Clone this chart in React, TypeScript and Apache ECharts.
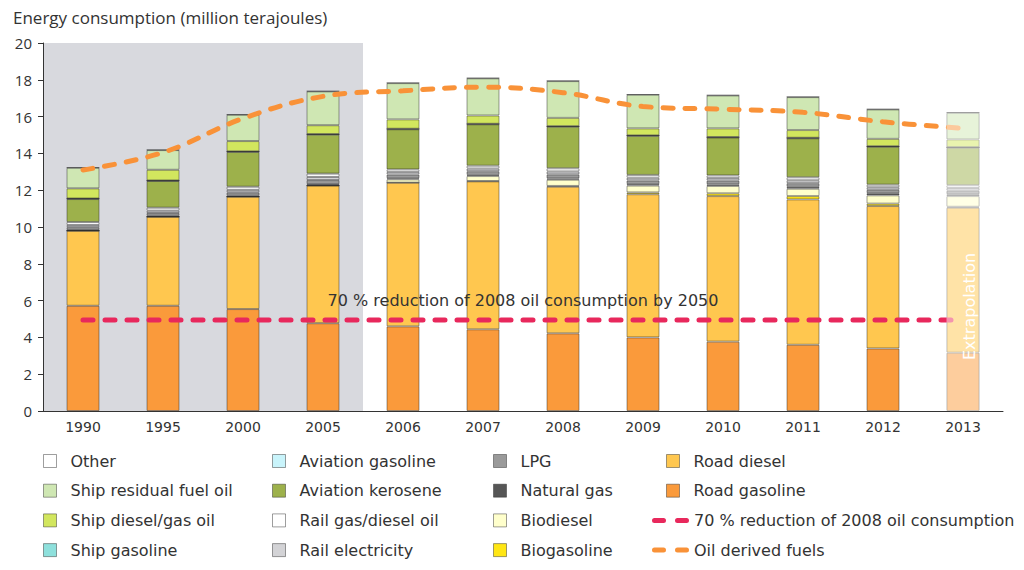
import React, { useEffect, useRef } from 'react';
import * as echarts from 'echarts';

const years = ['1990', '1995', '2000', '2005', '2006', '2007', '2008', '2009', '2010', '2011', '2012', '2013'];
const roadGasoline = [5.72, 5.72, 5.54, 4.77, 4.6, 4.44, 4.22, 4.0, 3.77, 3.6, 3.4, 3.17];
const roadDiesel = [4.08, 4.84, 6.11, 7.48, 7.81, 8.04, 7.97, 7.78, 7.91, 7.9, 7.74, 7.88];
const biogasoline = [0, 0, 0, 0, 0, 0.02, 0.04, 0.1, 0.15, 0.18, 0.13, 0.05];
const biodiesel = [0, 0, 0, 0.02, 0.18, 0.27, 0.34, 0.37, 0.4, 0.4, 0.45, 0.58];
const naturalGas = [0.04, 0.05, 0.05, 0.06, 0.06, 0.06, 0.07, 0.08, 0.09, 0.1, 0.12, 0.1];
const lpg = [0.15, 0.15, 0.18, 0.22, 0.2, 0.2, 0.22, 0.2, 0.2, 0.2, 0.18, 0.19];
const railElectricity = [0.12, 0.13, 0.14, 0.17, 0.14, 0.15, 0.16, 0.15, 0.14, 0.16, 0.14, 0.15];
const railDiesel = [0.16, 0.16, 0.17, 0.18, 0.14, 0.15, 0.17, 0.15, 0.14, 0.16, 0.14, 0.15];
const aviationKerosene = [1.25, 1.45, 1.89, 2.12, 2.18, 2.25, 2.26, 2.12, 2.06, 2.12, 2.06, 2.04];
const aviationGasoline = [0.02, 0.02, 0.02, 0.02, 0.02, 0.02, 0.02, 0.02, 0.02, 0.02, 0.02, 0.02];
const shipGasoline = [0.01, 0.01, 0.01, 0.01, 0.01, 0.01, 0.01, 0.01, 0.01, 0.01, 0.01, 0.01];
const shipDiesel = [0.55, 0.58, 0.56, 0.48, 0.51, 0.45, 0.45, 0.38, 0.47, 0.42, 0.4, 0.42];
const shipResidual = [1.12, 1.07, 1.43, 1.84, 1.97, 2.02, 2.0, 1.83, 1.79, 1.79, 1.6, 1.45];
const other = [0.02, 0.02, 0.02, 0.02, 0.02, 0.02, 0.02, 0.02, 0.02, 0.02, 0.02, 0.02];
const oilDerivedFuels = [13.1, 14.05, 15.9, 17.1, 17.4, 17.6, 17.3, 16.55, 16.4, 16.23, 15.72, 15.36];
const reductionTarget = [4.95, 4.95, 4.95, 4.95, 4.95, 4.95, 4.95, 4.95, 4.95, 4.95, 4.95, 4.95];
const historicYears = ['1990', '1995', '2000', '2005'];
const extrapolatedYears = ['2013'];
const yTicksMax = 20;

const stackSeries = [
  { name: 'Road gasoline', data: roadGasoline, color: '#fa9a3b' },
  { name: 'Road diesel', data: roadDiesel, color: '#ffc74f' },
  { name: 'Biogasoline', data: biogasoline, color: '#ffe614' },
  { name: 'Biodiesel', data: biodiesel, color: '#ffffcc' },
  { name: 'Natural gas', data: naturalGas, color: '#565656' },
  { name: 'LPG', data: lpg, color: '#9a9a9a' },
  { name: 'Rail electricity', data: railElectricity, color: '#d3d3d6' },
  { name: 'Rail gas/diesel oil', data: railDiesel, color: '#ffffff' },
  { name: 'Aviation kerosene', data: aviationKerosene, color: '#9db14b' },
  { name: 'Aviation gasoline', data: aviationGasoline, color: '#c9f4fb' },
  { name: 'Ship gasoline', data: shipGasoline, color: '#8ee0dc' },
  { name: 'Ship diesel/gas oil', data: shipDiesel, color: '#d2e65e' },
  { name: 'Ship residual fuel oil', data: shipResidual, color: '#cfe7b3' },
  { name: 'Other', data: other, color: '#ffffff' },
];

const FONT = 'DejaVu Sans';
const DASH_ICON =
  'path://M2.5,0 h9 a2.5,2.5 0 0 1 0,5 h-9 a2.5,2.5 0 0 1 0,-5 z M25.5,0 h9 a2.5,2.5 0 0 1 0,5 h-9 a2.5,2.5 0 0 1 0,-5 z';

export default function App() {
  const ref = useRef<HTMLDivElement>(null);
  useEffect(() => {
    const chart = echarts.init(ref.current!, null, { renderer: 'svg' });
    const totals = years.map((_, i) => stackSeries.reduce((s, ser) => s + ser.data[i], 0));
    const legendBase = {
      orient: 'vertical',
      padding: 0,
      icon: 'rect',
      itemWidth: 13,
      itemHeight: 13,
      itemGap: 13.7,
      selectedMode: false,
      itemStyle: { borderWidth: 1 },
      textStyle: { fontFamily: FONT, fontSize: 16, color: '#333', lineHeight: 16, padding: [0, 0, 0, 9] },
    };
    const option: any = {
      animation: false,
      title: {
        text: 'Energy consumption (million terajoules)',
        left: 8,
        top: 4,
        textStyle: { fontFamily: 'Open Sans', fontSize: 17, fontWeight: 'normal', color: '#333' },
      },
      grid: { left: 43, right: 21, top: 43, height: 368 },
      xAxis: [
        {
          type: 'category',
          data: years,
          axisLine: { lineStyle: { color: '#333', width: 1 } },
          axisTick: { length: 5, lineStyle: { color: '#333' } },
          axisLabel: { fontFamily: FONT, fontSize: 14, color: '#333', margin: 9 },
          z: 10,
        },
        { type: 'category', data: years, show: false },
        { type: 'category', data: years, show: false },
      ],
      yAxis: {
        type: 'value',
        min: 0,
        max: yTicksMax,
        interval: 2,
        axisLine: { show: true, lineStyle: { color: '#333', width: 1 } },
        axisTick: { show: true, length: 5, lineStyle: { color: '#333' } },
        splitLine: { show: false },
        axisLabel: { fontFamily: 'Open Sans', fontSize: 15, color: '#333', margin: 11 },
        z: 10,
      },
      legend: [
        { ...legendBase, left: 43, top: 453, data: ['Other', 'Ship residual fuel oil', 'Ship diesel/gas oil', 'Ship gasoline'] },
        { ...legendBase, left: 272, top: 453, data: ['Aviation gasoline', 'Aviation kerosene', 'Rail gas/diesel oil', 'Rail electricity'] },
        { ...legendBase, left: 493, top: 453, data: ['LPG', 'Natural gas', 'Biodiesel', 'Biogasoline'] },
        { ...legendBase, left: 666, top: 453, data: ['Road diesel', 'Road gasoline'] },
        {
          ...legendBase,
          left: 652,
          top: 512.4,
          itemWidth: 37,
          itemHeight: 5,
          itemGap: 13.7,
          itemStyle: { borderWidth: 0 },
          textStyle: { ...legendBase.textStyle, padding: [0, 0, 0, 0] },
          data: [
            { name: '70 % reduction of 2008 oil consumption', icon: DASH_ICON },
            { name: 'Oil derived fuels', icon: DASH_ICON },
          ],
        },
      ],
      graphic: [
        {
          type: 'text',
          x: 523,
          y: 300,
          style: {
            text: '70 % reduction of 2008 oil consumption by 2050',
            font: `16px "${FONT}"`,
            fill: '#333',
            textAlign: 'center',
            textVerticalAlign: 'middle',
          },
          z: 20,
        },
      ],
      series: [
        {
          type: 'bar',
          name: 'historic-bg',
          xAxisIndex: 1,
          barWidth: '100%',
          silent: true,
          z: 0,
          itemStyle: { color: '#d8d9de' },
          data: years.map((y) => (historicYears.includes(y) ? yTicksMax : null)),
        },
        ...stackSeries.map((s) => ({
          type: 'bar',
          name: s.name,
          stack: 'total',
          barWidth: 33,
          z: 2,
          data: s.data,
          itemStyle: { color: s.color, borderColor: 'rgba(40,40,40,0.45)', borderWidth: 1 },
        })),
        {
          type: 'line',
          name: '70 % reduction of 2008 oil consumption',
          data: reductionTarget,
          symbol: 'none',
          z: 3,
          lineStyle: { color: '#e8285c', width: 5, type: [10, 12], cap: 'round' },
          itemStyle: { color: '#e8285c' },
        },
        {
          type: 'line',
          name: 'Oil derived fuels',
          data: oilDerivedFuels,
          symbol: 'none',
          smooth: 0.4,
          z: 3,
          lineStyle: { color: '#f99238', width: 5, type: [10, 12], cap: 'round' },
          itemStyle: { color: '#f99238' },
        },
        {
          type: 'bar',
          name: 'extrapolation-overlay',
          xAxisIndex: 2,
          barWidth: 33,
          silent: true,
          z: 5,
          itemStyle: { color: 'rgba(255,255,255,0.5)' },
          label: {
            show: true,
            formatter: 'Extrapolation',
            position: ['71%', '65%'],
            rotate: 90,
            align: 'center',
            verticalAlign: 'middle',
            color: '#ffffff',
            fontFamily: FONT,
            fontSize: 16,
          },
          data: years.map((y, i) => (extrapolatedYears.includes(y) ? totals[i] : null)),
        },
      ],
    };
    chart.setOption(option);
    return () => chart.dispose();
  }, []);
  return <div ref={ref} style={{ position: 'absolute', left: 0, top: 0, width: 1024, height: 570 }} />;
}
